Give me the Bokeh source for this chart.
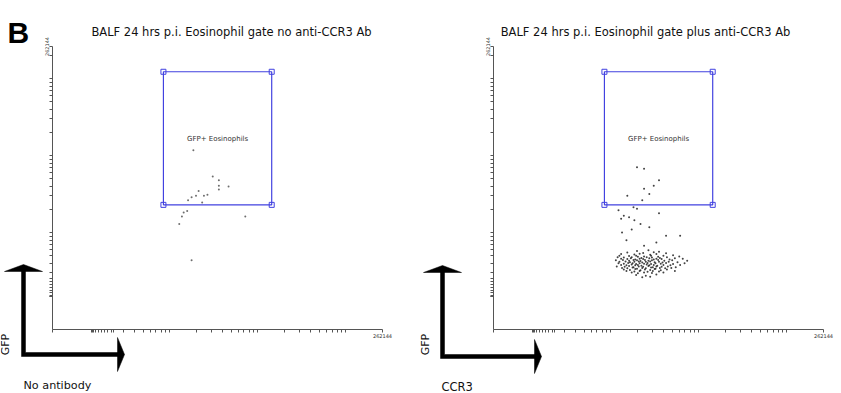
import numpy as np
from bokeh.plotting import figure
from bokeh.layouts import row
from bokeh.models import FixedTicker, Label, CustomJSTickFormatter
from bokeh.embed import file_html
from bokeh.resources import INLINE

# ---------------- data (log10 fluorescence) ----------------
panel_letter = "B"
titles = ["BALF 24 hrs p.i. Eosinophil gate no anti-CCR3 Ab",
          "BALF 24 hrs p.i. Eosinophil gate plus anti-CCR3 Ab"]
x_titles = ["No antibody", "CCR3"]
y_title = "GFP"
gate_name = "GFP+ Eosinophils"
axis_max_label = "262144"
axis_max_log = 5.4185          # log10(262144)
x_min_log = 1.67
y_min_log = 1.74

gate_ccr3 = [2.93, 4.16]       # gate left / right
gate_gfp = [3.36, 5.09]        # gate bottom / top

noab_ccr3 = [3.27, 3.49, 3.56, 3.56, 3.56, 3.67, 3.33, 3.30, 3.25, 3.39,
             3.43, 3.37, 3.21, 3.16, 3.20, 3.14, 3.11, 3.86, 3.25]
noab_gfp = [4.07, 3.73, 3.68, 3.61, 3.56, 3.60, 3.54, 3.48, 3.46, 3.48,
            3.49, 3.39, 3.42, 3.26, 3.28, 3.21, 3.11, 3.21, 2.64]

anti_ccr3 = [
    3.30, 3.38, 3.55, 3.49, 3.38, 3.44, 3.19, 3.36, 3.26, 3.30, 3.09, 3.15, 3.21, 3.55,
    3.27, 3.34, 3.44, 3.13, 3.63, 3.79, 3.38, 3.18, 3.52, 3.24, 3.12,
    3.30, 3.43, 3.55, 3.19, 3.37, 3.49, 3.63,
    3.12, 3.27, 3.33, 3.45, 3.52, 3.71,
    3.10, 3.21, 3.29, 3.38, 3.46, 3.54, 3.60, 3.78,
    3.08, 3.15, 3.24, 3.31, 3.35, 3.41, 3.47, 3.56, 3.64, 3.73,
    3.12, 3.19, 3.23, 3.28, 3.33, 3.37, 3.44, 3.49, 3.52, 3.58, 3.67, 3.82,
    3.06, 3.14, 3.21, 3.26, 3.30, 3.34, 3.39, 3.43, 3.47, 3.54, 3.61, 3.70, 3.87,
    3.10, 3.17, 3.22, 3.27, 3.32, 3.36, 3.40, 3.45, 3.50, 3.55, 3.59, 3.66, 3.76,
    3.09, 3.15, 3.20, 3.25, 3.29, 3.33, 3.38, 3.42, 3.46, 3.51, 3.57, 3.63, 3.71, 3.84,
    3.12, 3.18, 3.24, 3.28, 3.31, 3.35, 3.41, 3.44, 3.49, 3.53, 3.60, 3.68, 3.79,
    3.07, 3.16, 3.21, 3.26, 3.32, 3.37, 3.43, 3.48, 3.52, 3.58, 3.65, 3.74,
    3.13, 3.19, 3.25, 3.30, 3.36, 3.40, 3.46, 3.51, 3.56, 3.62, 3.69,
    3.15, 3.22, 3.28, 3.34, 3.39, 3.45, 3.50, 3.57, 3.64,
    3.18, 3.27, 3.33, 3.42, 3.48, 3.55, 3.73,
    3.24, 3.31, 3.38, 3.47, 3.60,
    3.29, 3.40, 3.52, 3.36, 3.45]
anti_gfp = [
    3.85, 3.83, 3.68, 3.61, 3.57, 3.50, 3.48, 3.42, 3.33, 3.31, 3.29, 3.22, 3.20, 3.25,
    3.16, 3.11, 3.07, 3.00, 2.96, 2.96, 2.83, 2.90, 2.87, 3.04, 3.18,
    2.76, 2.77, 2.75, 2.74, 2.735, 2.745, 2.73,
    2.72, 2.715, 2.725, 2.71, 2.72, 2.705,
    2.70, 2.695, 2.70, 2.69, 2.70, 2.685, 2.70, 2.69,
    2.68, 2.675, 2.68, 2.685, 2.67, 2.68, 2.675, 2.67, 2.68, 2.665,
    2.66, 2.655, 2.665, 2.65, 2.66, 2.655, 2.665, 2.65, 2.66, 2.655, 2.65, 2.66,
    2.64, 2.645, 2.635, 2.645, 2.64, 2.63, 2.645, 2.635, 2.64, 2.645, 2.635, 2.64, 2.635,
    2.62, 2.625, 2.615, 2.62, 2.625, 2.61, 2.62, 2.625, 2.615, 2.62, 2.61, 2.62, 2.615,
    2.60, 2.595, 2.605, 2.60, 2.59, 2.60, 2.595, 2.605, 2.59, 2.60, 2.595, 2.605, 2.59, 2.60,
    2.58, 2.575, 2.585, 2.575, 2.58, 2.57, 2.585, 2.575, 2.58, 2.57, 2.58, 2.575, 2.58,
    2.56, 2.555, 2.565, 2.55, 2.56, 2.555, 2.565, 2.55, 2.56, 2.555, 2.56, 2.55,
    2.54, 2.535, 2.545, 2.53, 2.54, 2.535, 2.545, 2.53, 2.54, 2.535, 2.54,
    2.52, 2.515, 2.525, 2.51, 2.52, 2.515, 2.525, 2.51, 2.52,
    2.50, 2.495, 2.50, 2.49, 2.50, 2.495, 2.50,
    2.48, 2.47, 2.48, 2.475, 2.48,
    2.45, 2.44, 2.455, 2.42, 2.425]

# ---------------- layout constants (pixels) ----------------
W, H = 841, 393
FRAME_L, FRAME_T, FRAME_W, FRAME_H = 52, 46, 330, 283
FRAME_B = FRAME_T + FRAME_H
GATE_COLOR = "#4242e0"
FONT = "DejaVu Sans"

# axis ticks (positions only)
dense_x = [2.113, 2.122, 2.131, 2.16, 2.195, 2.23, 2.265, 2.30, 2.335, 2.365]
dense_y = [2.165, 2.175, 2.185, 2.215, 2.25, 2.29, 2.33, 2.37, 2.40]
decade = list(np.log10(np.arange(3, 10)) + 2) + [3.0] + \
         list(np.log10(np.arange(2, 10)) + 3) + [4.0] + \
         list(np.log10(np.arange(2, 10)) + 4) + [5.0]
x_ticks = [x_min_log] + dense_x + decade + [axis_max_log]
y_ticks = dense_y + decade + [5.301, axis_max_log]

fmt = CustomJSTickFormatter(code="return tick > 5.4 ? '262144' : ''")


def make_panel(width, ccr3, gfp, dot_color):
    p = figure(width=width, height=H, output_backend="svg", toolbar_location=None,
               x_range=(x_min_log, axis_max_log), y_range=(y_min_log, axis_max_log),
               min_border_left=FRAME_L, min_border_top=FRAME_T,
               min_border_bottom=H - FRAME_B, min_border_right=width - FRAME_L - FRAME_W,
               background_fill_color="white", border_fill_color="white")
    p.outline_line_color = None
    p.xgrid.visible = False
    p.ygrid.visible = False
    for ax, ticks, orient in ((p.xaxis[0], x_ticks, "horizontal"), (p.yaxis[0], y_ticks, "vertical")):
        ax.ticker = FixedTicker(ticks=ticks, minor_ticks=[])
        ax.formatter = fmt
        ax.axis_line_color = "#555555"
        ax.major_tick_line_color = "#555555"
        ax.major_tick_out = 3
        ax.major_tick_in = 0
        ax.minor_tick_line_color = None
        ax.major_label_text_font_size = "5px"
        ax.major_label_text_font = FONT
        ax.major_label_text_color = "#333333"
        ax.major_label_standoff = 1
        ax.major_label_orientation = orient

    # gate
    p.quad(left=[gate_ccr3[0]], right=[gate_ccr3[1]], bottom=[gate_gfp[0]], top=[gate_gfp[1]],
           fill_color=None, line_color=GATE_COLOR, line_width=1.2)
    p.scatter(x=[gate_ccr3[0], gate_ccr3[1], gate_ccr3[0], gate_ccr3[1]],
              y=[gate_gfp[0], gate_gfp[0], gate_gfp[1], gate_gfp[1]],
              marker="square", size=5, fill_color=None, line_color=GATE_COLOR, line_width=1)
    p.add_layout(Label(x=(gate_ccr3[0] + gate_ccr3[1]) / 2, y=4.22, text=gate_name,
                       text_align="center", text_baseline="middle", text_font=FONT,
                       text_font_size="7px", text_color="#333333"))

    # events
    p.scatter(x=ccr3, y=gfp, marker="circle", size=2, fill_color=dot_color,
              line_color=None, fill_alpha=0.85)
    return p


left = make_panel(441, noab_ccr3, noab_gfp, "#555555")
right = make_panel(400, anti_ccr3, anti_gfp, "#222222")
panels = row(left, right)

# ---------------- decoration layer (page pixels), laid over the panels ----------------
deco = figure(width=W, height=H, output_backend="svg", toolbar_location=None,
              x_range=(0, W), y_range=(H, 0), x_axis_location=None, y_axis_location=None,
              min_border=0, background_fill_color=None, border_fill_color=None,
              styles={"position": "absolute", "left": "0px", "top": "0px"})
deco.outline_line_color = None
deco.xgrid.visible = False
deco.ygrid.visible = False


def add_arrow(vx, hy, hx_end, top_y):
    xs = [[vx - 2, vx + 2, vx + 2, hx_end, hx_end, vx - 2],
          [vx, vx + 19, vx - 19],
          [hx_end + 6, hx_end - 1, hx_end - 1]]
    ys = [[top_y + 5, top_y + 5, hy - 2, hy - 2, hy + 2, hy + 2],
          [top_y - 1, top_y + 6, top_y + 6],
          [hy, hy - 17, hy + 17]]
    deco.patches(xs=xs, ys=ys, fill_color="black", line_color="black", line_width=0.5)


add_arrow(23, 354, 118, 265)
add_arrow(442, 356, 535, 266)


def add_text(x, y, text, size, align="left", baseline="alphabetic", angle=0.0,
             font=FONT, style="normal", color="#111111"):
    deco.add_layout(Label(x=x, y=y, text=text, text_font=font, text_font_size=size,
                          text_font_style=style, text_align=align, text_baseline=baseline,
                          angle=angle, text_color=color))


add_text(7, 32, panel_letter, "30px", font="Liberation Sans", style="bold", color="black")
add_text(231, 31, titles[0], "11.5px", align="center")
add_text(645, 31, titles[1], "11.5px", align="center")
add_text(5, 344, y_title, "11px", align="center", baseline="middle", angle=np.pi / 2)
add_text(425, 344, y_title, "11px", align="center", baseline="middle", angle=np.pi / 2)
add_text(23, 385, x_titles[0], "11.2px")
add_text(441, 386, x_titles[1], "11.5px")

open("out.html", "w").write(file_html([panels, deco], INLINE))
